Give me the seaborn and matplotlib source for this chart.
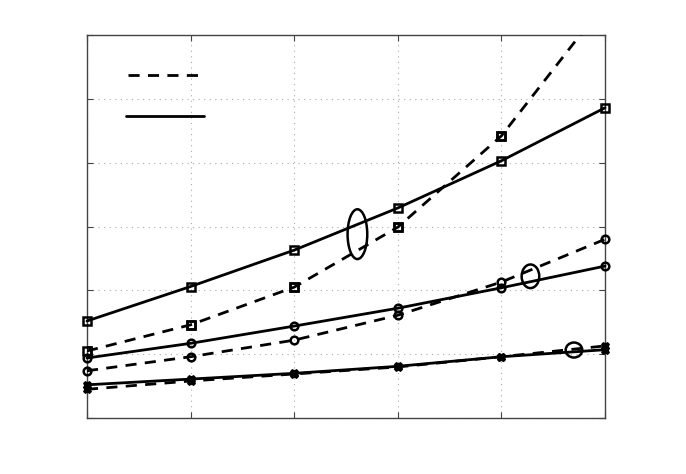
import pandas as pd
import matplotlib.pyplot as plt
from matplotlib import patches
from matplotlib.lines import Line2D
import seaborn as sns

# x positions (no tick labels shown in the original)
x_vals = [0, 1, 2, 3, 4, 5]

# three pairs of curves: solid vs dashed, per marker
solid_square = [1.52, 2.06, 2.63, 3.29, 4.03, 4.86]
dashed_square = [1.05, 1.46, 2.05, 2.99, 4.42, 6.50]
solid_circle = [0.94, 1.17, 1.44, 1.72, 2.04, 2.38]
dashed_circle = [0.74, 0.96, 1.22, 1.61, 2.13, 2.80]
solid_cross = [0.52, 0.61, 0.70, 0.81, 0.96, 1.07]
dashed_cross = [0.45, 0.58, 0.69, 0.80, 0.96, 1.13]

# ellipses marking the crossing points (center x, center y, width, height)
ellipse_x = [2.61, 4.28, 4.70]
ellipse_y = [2.88, 2.22, 1.065]
ellipse_w = [0.19, 0.17, 0.16]
ellipse_h = [0.78, 0.37, 0.235]

sns.set_style("white")

fig = plt.figure(figsize=(6.86, 4.74), dpi=100)
ax = fig.add_axes([0.1268, 0.1181, 0.7552, 0.8081])

series = [
    (solid_square, "-", "s"),
    (dashed_square, "--", "s"),
    (solid_circle, "-", "o"),
    (dashed_circle, "--", "o"),
    (solid_cross, "-", "X"),
    (dashed_cross, "--", "X"),
]

for vals, ls, mk in series:
    df = pd.DataFrame({"x": x_vals, "y": vals})
    in_range = max(vals) <= 6
    sns.lineplot(
        data=df, x="x", y="y", ax=ax, color="black", linewidth=2.0,
        marker=mk, markersize=5.5 if mk != "X" else 5,
        markerfacecolor="none" if mk != "X" else "black",
        markeredgecolor="black", markeredgewidth=1.8,
        clip_on=not in_range, zorder=3,
    )
    ax.lines[-1].set_linestyle(ls)
    if ls == "--":
        ax.lines[-1].set_dashes((4, 3))
    if not in_range:
        # keep visible markers unclipped at the left edge
        inside = df[df["y"] <= 6]
        ax.plot(inside["x"], inside["y"], ls="none", marker=mk,
                markersize=5.5, markerfacecolor="none",
                markeredgecolor="black", markeredgewidth=1.8,
                clip_on=False, zorder=3)

for cx, cy, w, h in zip(ellipse_x, ellipse_y, ellipse_w, ellipse_h):
    ax.add_patch(patches.Ellipse((cx, cy), w, h, fill=False,
                                 edgecolor="black", lw=1.8, zorder=5))

# legend sample lines (labels are blank in the original)
ax.add_line(Line2D([0.08, 0.225], [0.895, 0.895], transform=ax.transAxes,
                   color="black", lw=2.0, ls=(0, (4, 3))))
ax.add_line(Line2D([0.075, 0.225], [0.788, 0.788], transform=ax.transAxes,
                   color="black", lw=2.0))

ax.set_xlim(0, 5)
ax.set_ylim(0, 6)
ax.set_xticks(x_vals)
ax.set_yticks([0, 1, 2, 3, 4, 5, 6])
ax.set_xticklabels([])
ax.set_yticklabels([])
ax.set_xlabel("")
ax.set_ylabel("")
ax.grid(True, color="#aaaaaa", linestyle=(0, (1, 4)), linewidth=0.8)
ax.tick_params(direction="in", length=4, top=True, right=True,
               bottom=True, left=True, color="#444444")
for sp in ax.spines.values():
    sp.set_color("#444444")
    sp.set_linewidth(1.0)

fig.savefig("out.png", dpi=100)
